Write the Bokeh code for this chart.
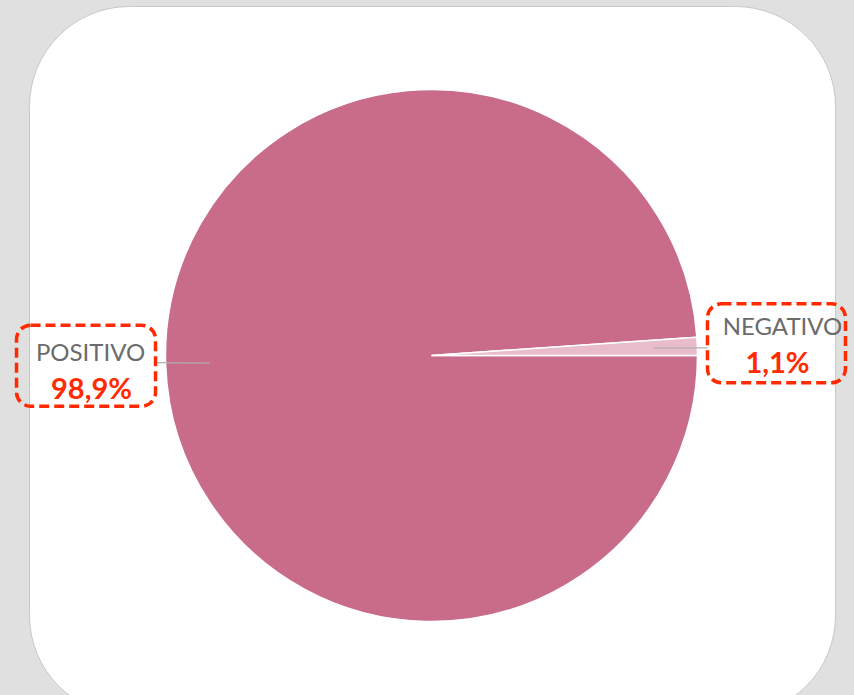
import math
from bokeh.plotting import figure
from bokeh.models import BoxAnnotation, Range1d, ColumnDataSource
from bokeh.core.properties import value
from bokeh.embed import file_html
from bokeh.resources import INLINE

# ---- data ----
categories = ["POSITIVO", "NEGATIVO"]
percents = [98.9, 1.1]
pct_labels = ["98,9%", "1,1%"]
slice_colors = ["#c96c89", "#e8bccb"]

W, H = 854, 695
p = figure(width=W, height=H, output_backend="svg", toolbar_location=None,
           x_range=Range1d(0, W), y_range=Range1d(0, H), min_border=0)
p.axis.visible = False
p.grid.visible = False
p.outline_line_color = None
p.background_fill_color = "#e0e0e0"
p.border_fill_color = "#e0e0e0"

# card
p.add_layout(BoxAnnotation(left=29, right=835, top=689, bottom=-20,
                           fill_color="white", fill_alpha=1,
                           line_color="#c8c8c8", line_alpha=1, line_width=1,
                           border_radius=100, level="underlay"))

cx, cy, r = 431, 340, 266

# angles: negative slice from 0 counterclockwise, positive fills the rest
total = sum(percents)
neg_end = percents[1] / total * 2 * math.pi
starts = [neg_end, 0.0]
ends = [2 * math.pi, neg_end]
src = ColumnDataSource(dict(cat=categories, start=starts, end=ends, color=slice_colors))
p.wedge(x=cx, y=cy, radius=r, start_angle="start", end_angle="end",
        fill_color="color", line_color="white", line_width=1.5, source=src)

# labels
inner = 0.835 * r
for i, cat in enumerate(categories):
    mid = (starts[i] + ends[i]) / 2
    ax = cx + inner * math.cos(mid)
    ay = cy + inner * math.sin(mid)
    if math.cos(mid) < 0:
        bx1 = ax - 54
        left, right = bx1 - 139, bx1
        top, bottom = ay + 38, ay - 43
        tx1, ty1 = left + 74, top - 26
        tx2, ty2 = left + 75, top - 62
        p.line([ax, bx1], [ay, ay + 0.5], line_color="#b0b0b0", line_width=1.2)
    else:
        bx1 = ax + 54
        left, right = bx1, bx1 + 138
        top, bottom = ay + 44, ay - 35
        tx1, ty1 = left + 75, top - 22
        tx2, ty2 = left + 70, top - 58
        p.line([ax, bx1], [ay, ay], line_color="#b0b0b0", line_width=1.2)
    p.add_layout(BoxAnnotation(left=left, right=right, top=top, bottom=bottom,
                               fill_alpha=0, line_color="#ff2a00", line_alpha=1,
                               line_width=3.5, line_dash="10 5", border_radius=14))
    p.text(x=[tx1], y=[ty1], text=[cat], text_font=value("Lato"),
           text_font_size="24px", text_color="#6b6b6b", text_align="center",
           text_baseline="alphabetic")
    p.text(x=[tx2], y=[ty2], text=[pct_labels[i]], text_font=value("Lato"),
           text_font_size="29px", text_font_style="bold", text_color="#ff2a00",
           text_align="center", text_baseline="alphabetic")

tmpl = "{% block preamble %}<style>html,body{background:#e0e0e0;}</style>{% endblock %}"
open("out.html", "w").write(file_html(p, INLINE, template=tmpl))
